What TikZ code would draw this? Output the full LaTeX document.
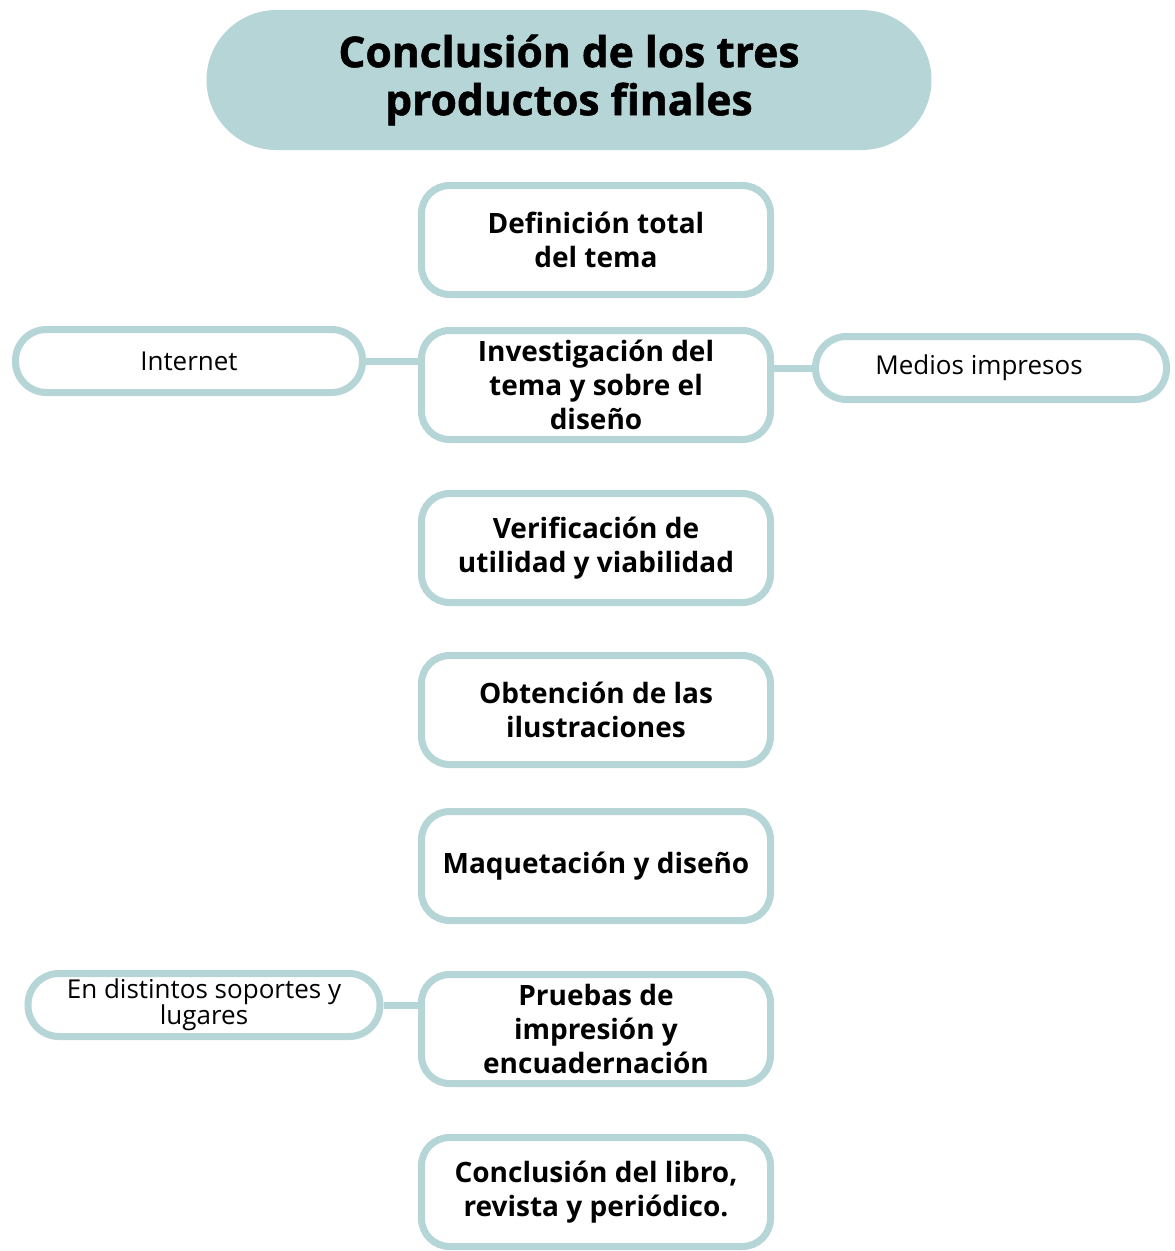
\documentclass[tikz,border=0pt]{standalone}
\usepackage{fontspec}
\setmainfont{Open Sans}
\newfontfamily\titlefont{Open Sans}[BoldFeatures={FakeBold=1.2}]
\definecolor{teal}{HTML}{B5D5D7}
\tikzset{
  mainbox/.style={draw=teal, line width=7pt, rounded corners=28pt, fill=white,
    minimum width=349pt, minimum height=109pt, align=center,
    font=\fontsize{28}{34}\selectfont\bfseries, inner sep=0pt},
  sidebox/.style={draw=teal, line width=7pt, rounded corners=31pt, fill=white,
    minimum height=63pt, align=center, inner sep=0pt,
    font=\fontsize{26}{26}\selectfont},
  link/.style={draw=teal, line width=7pt},
  titlebox/.style={fill=teal, rounded corners=70pt, minimum width=725pt,
    minimum height=140pt, align=center, inner sep=0pt,
    font=\titlefont\fontsize{42.5}{48}\selectfont\bfseries}
}
\begin{document}
\begin{tikzpicture}[x=1pt,y=-1pt]
\useasboundingbox (0,0) rectangle (1175,1251);
\node[titlebox] (title) at (569,80) {Conclusión de los tres\\productos finales};
\node[mainbox] (b1) at (596,240) {Definición total\\del tema};
\node[mainbox] (b2) at (596,385) {Investigación del\\tema y sobre el\\diseño};
\node[mainbox] (b3) at (596,548) {Verificación de\\utilidad y viabilidad};
\node[mainbox] (b4) at (596,710) {Obtención de las\\ilustraciones};
\node[mainbox] (b5) at (596,866) {Maquetación y diseño};
\node[mainbox] (b6) at (596,1029) {Pruebas de\\impresión y\\encuadernación};
\node[mainbox] (b7) at (596,1192) {Conclusión del libro,\\revista y periódico.};
\node[sidebox, minimum width=347pt] (internet) at (189,361) {Internet};
\node[sidebox, minimum width=351pt] (medios) at (991,368) {Medios impresos\hspace*{24pt}};
\node[sidebox, minimum width=352pt] (soportes) at (204,1005) {En distintos soportes y\\lugares};
\path[link] (internet.east) -- (internet.east -| b2.west);
\path[link] (medios.west) -- (medios.west -| b2.east);
\path[link] (soportes.east) -- (soportes.east -| b6.west);
\end{tikzpicture}
\end{document}
